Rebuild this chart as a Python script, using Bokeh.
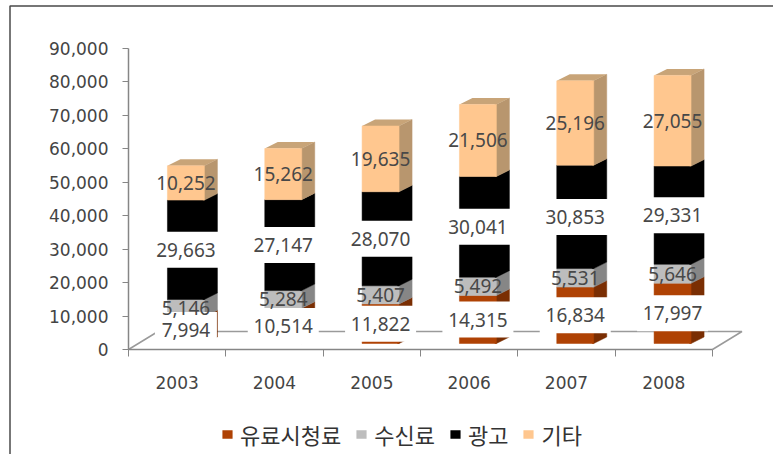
from bokeh.plotting import figure
from bokeh.embed import file_html
from bokeh.resources import INLINE
from bokeh.models import (ColumnDataSource, FixedTicker, Legend, LegendItem, Range1d)
from bokeh.core.properties import value

years = ["2003", "2004", "2005", "2006", "2007", "2008"]
pay = [7994, 10514, 11822, 14315, 16834, 17997]
subscription = [5146, 5284, 5407, 5492, 5531, 5646]
advertising = [29663, 27147, 28070, 30041, 30853, 29331]
other = [10252, 15262, 19635, 21506, 25196, 27055]
series_names = ["유료시청료", "수신료", "광고", "기타"]
y_ticks = [0, 10000, 20000, 30000, 40000, 50000, 60000, 70000, 80000, 90000]

front_cols = ["#AF4204", "#BDBDBD", "#000000", "#FFC78F"]
side_cols = ["#7A2E03", "#868686", "#000000", "#B8966E"]
top_cols = ["#C7703A", "#A0A0A0", "#000000", "#C8A478"]

PX_X = 97.33            # pixels per category
PX_Y = 33.5 / 10000     # pixels per value unit
X0, Y0 = 128, 349       # pixel position of the data origin
W, H = 773, 454

BAR_L, BAR_R = 0.40, 0.78
DEPTH_X, DEPTH_Y = 13 / PX_X, 6.5 / PX_Y
BASE = 6 / PX_Y
FLOOR_X, FLOOR_Y = 29.5 / PX_X, 18 / PX_Y
SEAM = 1.5 / PX_X

p = figure(width=W, height=H, output_backend="svg", toolbar_location=None,
           x_range=Range1d(-X0 / PX_X, (W - X0) / PX_X),
           y_range=Range1d(-(H - Y0) / PX_Y, Y0 / PX_Y),
           min_border=0, min_border_left=0, min_border_right=0,
           min_border_top=0, min_border_bottom=0)
p.grid.visible = False
p.outline_line_color = None
p.background_fill_color = "white"

# outer frame of the picture (top and left edges)
frame_left = (9.5 - X0) / PX_X
frame_top = (Y0 - 5.5) / PX_Y
p.line([frame_left, frame_left, (W - X0) / PX_X], [-(H - Y0) / PX_Y, frame_top, frame_top],
       line_color="#4A4A4A", line_width=1.5)

# floor of the 3-D plot
n = len(years)
p.line([0, FLOOR_X, n + FLOOR_X, n], [0, FLOOR_Y, FLOOR_Y, 0], line_color="#9A9A9A", line_width=1.5)

all_series = [pay, subscription, advertising, other]
legend_items = []
for k, vals in enumerate(all_series):
    bottoms = [BASE + sum(all_series[j][i] for j in range(k)) for i in range(n)]
    tops = [b + v for b, v in zip(bottoms, vals)]
    lefts = [i + BAR_L for i in range(n)]
    rights = [i + BAR_R for i in range(n)]
    side_x = [[r - SEAM, r, r + DEPTH_X, r + DEPTH_X, r, r - SEAM] for r in rights]
    side_y = [[b, b, b + DEPTH_Y, t + DEPTH_Y, t, t] for b, t in zip(bottoms, tops)]
    top_x = [[l, r, r + DEPTH_X, l + DEPTH_X] for l, r in zip(lefts, rights)]
    top_y = [[t, t, t + DEPTH_Y, t + DEPTH_Y] for t in tops]
    p.patches(side_x, side_y, fill_color=side_cols[k], line_color=side_cols[k], line_width=0.5)
    if k == 3:
        p.patches(top_x, top_y, fill_color=top_cols[k], line_color=None)
    r = p.quad(left=lefts, right=rights, bottom=bottoms, top=tops,
               fill_color=front_cols[k], line_color=front_cols[k], line_width=0.5)
    legend_items.append(LegendItem(label=series_names[k], renderers=[r]))

# data labels; the lower two series sit on white boxes
LABEL_X = (BAR_L + BAR_R) / 2
for k, vals in enumerate(all_series):
    mids = [BASE + sum(all_series[j][i] for j in range(k)) + v / 2 for i, v in enumerate(vals)]
    xs = [i + LABEL_X for i in range(n)]
    texts = [f"{v:,}" for v in vals]
    if k in (0, 2):
        p.rect(x=xs, y=mids, width=[71 if len(t) > 5 else 62 for t in texts], height=36,
               width_units="screen", height_units="screen", fill_color="white", line_color=None)
    src = ColumnDataSource(dict(x=xs, y=mids, t=texts))
    p.text(x="x", y="y", text="t", source=src, text_align="center", text_baseline="middle",
           text_font=value("Noto Sans"), text_font_size="19px", text_color="#484848")

# axes
for ax in p.xaxis:
    ax.fixed_location = 0
    ax.bounds = (0, n)
    ax.ticker = FixedTicker(ticks=[i + 0.5 for i in range(n)], minor_ticks=list(range(n + 1)))
    ax.major_label_overrides = {i + 0.5: y for i, y in enumerate(years)}
    ax.major_tick_out = 0
    ax.major_tick_in = 0
    ax.minor_tick_out = 7
    ax.minor_tick_in = 0
    ax.minor_tick_line_color = "#868686"
    ax.axis_line_color = "#868686"
    ax.axis_line_width = 1.5
    ax.major_label_standoff = 19
    ax.major_label_text_font = "DejaVu Sans"
    ax.major_label_text_font_size = "17px"
    ax.major_label_text_color = "#444444"

for ax in p.yaxis:
    ax.fixed_location = 0
    ax.bounds = (0, 90000)
    ax.ticker = FixedTicker(ticks=y_ticks)
    ax.formatter.use_scientific = False
    ax.major_label_overrides = {t: f"{t:,}" for t in y_ticks}
    ax.major_tick_out = 6
    ax.major_tick_in = 0
    ax.minor_tick_out = 0
    ax.minor_tick_in = 0
    ax.major_tick_line_color = "#868686"
    ax.axis_line_color = "#868686"
    ax.axis_line_width = 1.5
    ax.major_label_standoff = 14
    ax.major_label_text_font = "DejaVu Sans"
    ax.major_label_text_font_size = "17px"
    ax.major_label_text_color = "#444444"

legend = Legend(items=legend_items, orientation="horizontal", location=(221, 4),
                glyph_width=12, glyph_height=10, label_standoff=7, spacing=14,
                padding=0, margin=0, border_line_color=None, background_fill_alpha=0,
                label_text_font="Noto Sans CJK KR", label_text_font_size="22px",
                label_text_color="#333333")
p.add_layout(legend, "center")

open("out.html", "w").write(file_html(p, INLINE))
